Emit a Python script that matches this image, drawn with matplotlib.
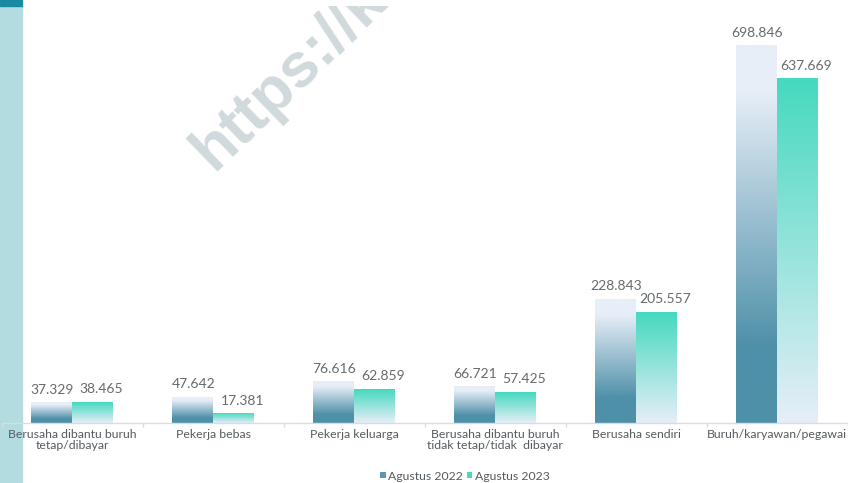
import numpy as np
import matplotlib
matplotlib.use("Agg")
import matplotlib.pyplot as plt
from matplotlib.colors import LinearSegmentedColormap
from matplotlib.patches import Rectangle, Patch

# Data
categories = [
    "Berusaha dibantu buruh\ntetap/dibayar",
    "Pekerja bebas",
    "Pekerja keluarga",
    "Berusaha dibantu buruh\ntidak tetap/tidak  dibayar",
    "Berusaha sendiri",
    "Buruh/karyawan/pegawai",
]
agustus_2022 = [37.329, 47.642, 76.616, 66.721, 228.843, 698.846]
agustus_2023 = [38.465, 17.381, 62.859, 57.425, 205.557, 637.669]
series_names = ["Agustus 2022", "Agustus 2023"]

def fmt(v):
    return f"{v:.3f}"

W, H = 848, 483
plt.rcParams["font.family"] = ["Lato", "DejaVu Sans"]

fig = plt.figure(figsize=(W / 100, H / 100), dpi=100, facecolor="white")

# Background panel with side strip and watermark
bg = fig.add_axes([0, 0, 1, (H - 6) / H], zorder=0)
bg.set_facecolor("#eef6f9")
bg.set_xlim(0, W)
bg.set_ylim(H - 6, 0)
bg.axis("off")
bg.patch.set_visible(True)
bg.add_patch(Rectangle((0, 0), 22, H, color="#b3dce1", zorder=1))
bg.text(214, 172 - 6, "https://k", rotation=44, rotation_mode="anchor",
        ha="left", va="baseline", fontsize=45, fontweight="bold",
        family=["Liberation Sans", "DejaVu Sans"], color="#d0dadd",
        clip_on=True, zorder=2)

fig.patches.append(Rectangle((0, (H - 6) / H), 22 / W, 6 / H, transform=fig.transFigure,
                             color="#1a8aa2", zorder=5))

# Main chart
ax = fig.add_axes([1.5 / W, 60 / H, 846 / W, 417 / H], zorder=3)
ax.set_facecolor("none")

x = np.arange(len(categories))
bw = 0.29
off = 0.145

light = "#e7eef8"
cmap22 = LinearSegmentedColormap.from_list(
    "g22", [(0.0, light), (0.12, light), (0.8, "#4e90a8"), (1.0, "#4e90a8")])
cmap23 = LinearSegmentedColormap.from_list(
    "g23", [(0.0, "#45d9bf"), (1.0, light)])
grad = np.linspace(0, 1, 256).reshape(-1, 1)

bars22 = ax.bar(x - off, agustus_2022, bw, color="none", edgecolor="none")
bars23 = ax.bar(x + off, agustus_2023, bw, color="none", edgecolor="none")

for bars, cmap in ((bars22, cmap22), (bars23, cmap23)):
    for b in bars:
        x0, w, h = b.get_x(), b.get_width(), b.get_height()
        ax.imshow(grad, cmap=cmap, aspect="auto", extent=(x0, x0 + w, 0, h),
                  origin="upper", interpolation="bilinear", zorder=2)

for b, v in zip(bars22, agustus_2022):
    ax.annotate(fmt(v), (b.get_x() + b.get_width() / 2, v), xytext=(1, 7),
                textcoords="offset pixels", ha="center", va="bottom",
                fontsize=10, color="#666a6d", zorder=4)
for b, v in zip(bars23, agustus_2023):
    ax.annotate(fmt(v), (b.get_x() + b.get_width() / 2, v), xytext=(9, 7),
                textcoords="offset pixels", ha="center", va="bottom",
                fontsize=10, color="#666a6d", zorder=4)

ax.set_xlim(-0.5, len(categories) - 0.5)
ax.set_ylim(0, 417 / 0.5397)

for s in ("top", "right", "left"):
    ax.spines[s].set_visible(False)
ax.spines["bottom"].set_color("#d6dee2")
ax.spines["bottom"].set_linewidth(1)
ax.set_yticks([])
ax.set_xticks(x)
ax.set_xticklabels(categories, fontsize=8.8, color="#555b5e", linespacing=1.05)
ax.tick_params(axis="x", which="major", length=0, pad=4)
ax.set_xticks(np.arange(-0.5, len(categories), 1), minor=True)
ax.tick_params(axis="x", which="minor", length=3, color="#d6dee2", width=1)

handles = [Patch(facecolor="#5d97ad", edgecolor="none"),
           Patch(facecolor="#45d9bf", edgecolor="none")]
fig.legend(handles, series_names, loc="center", bbox_to_anchor=(465 / W, 1 - 476 / H),
           ncol=2, frameon=False, fontsize=8.8, handlelength=0.45, handleheight=0.4,
           handletextpad=0.2, columnspacing=0.3, labelcolor="#555b5e")

fig.savefig("out.png", dpi=100, facecolor="white")
